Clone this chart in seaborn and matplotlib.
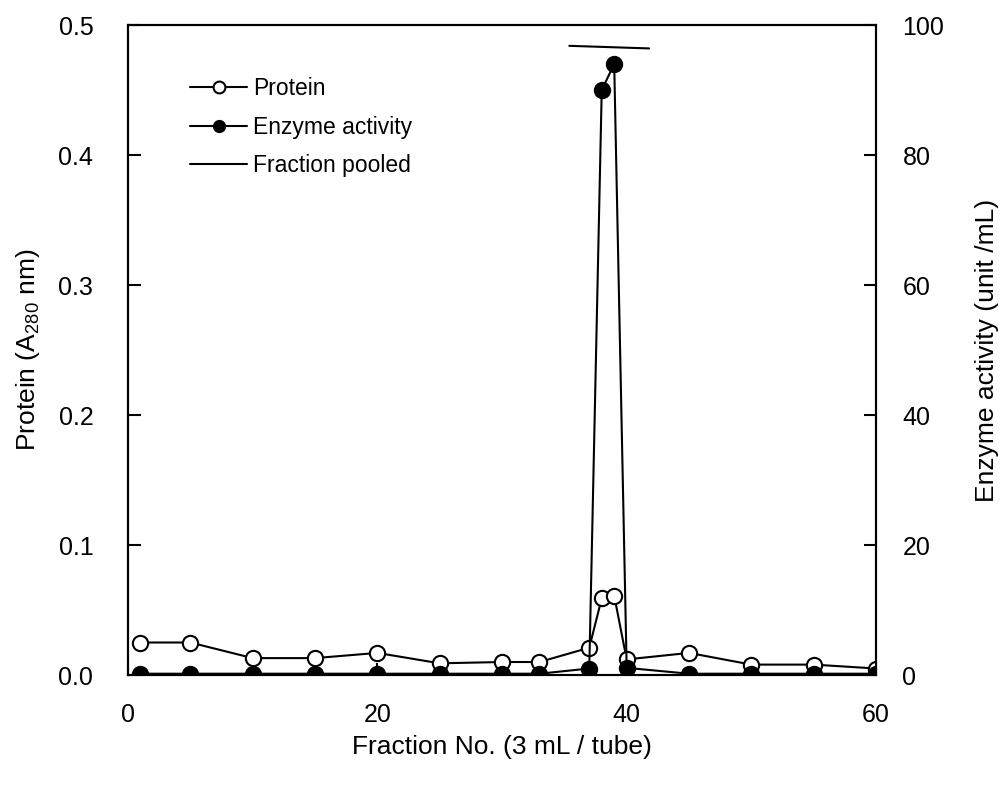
import matplotlib
matplotlib.use("Agg")
import matplotlib.pyplot as plt
import seaborn as sns
import numpy as np
from matplotlib.lines import Line2D

# Data
fractions = [1, 5, 10, 15, 20, 25, 30, 33, 37, 38, 39, 40, 45, 50, 55, 60]
protein = [0.025, 0.025, 0.013, 0.013, 0.017, 0.009, 0.010, 0.010, 0.021, 0.059, 0.061, 0.012, 0.017, 0.008, 0.008, 0.005]
enzyme = [0.2, 0.2, 0.2, 0.2, 0.2, 0.2, 0.2, 0.2, 1.0, 90, 94, 1.1, 0.2, 0.2, 0.2, 0.2]
pooled_x = [35.4, 41.8]
pooled_y = [96.8, 96.4]

x_ticks = [0, 20, 40, 60]
left_ticks = [0.0, 0.1, 0.2, 0.3, 0.4, 0.5]
right_ticks = [0, 20, 40, 60, 80, 100]

sns.set_style("ticks")
plt.rcParams['font.family'] = ['Liberation Sans', 'DejaVu Sans']
plt.rcParams['mathtext.fontset'] = 'custom'
plt.rcParams['mathtext.rm'] = 'Liberation Sans'
for k in ['text.color', 'axes.labelcolor', 'xtick.color', 'ytick.color',
          'xtick.labelcolor', 'ytick.labelcolor']:
    plt.rcParams[k] = 'black'

fig = plt.figure(figsize=(10, 7.87), dpi=100)
ax = fig.add_axes([0.128, 0.1423, 0.748, 0.8259])
ax2 = ax.twinx()

lw = 1.5
ms = 11
sns.lineplot(x=fractions, y=protein, ax=ax, color='black', linewidth=lw,
             marker='o', markersize=ms, markerfacecolor='white',
             markeredgecolor='black', markeredgewidth=1.5, zorder=3)
sns.lineplot(x=fractions, y=enzyme, ax=ax2, color='black', linewidth=lw,
             marker='o', markersize=ms, markerfacecolor='black',
             markeredgecolor='black', markeredgewidth=1.5, zorder=4)
sns.lineplot(x=pooled_x, y=pooled_y, ax=ax2, color='black', linewidth=lw)

ax.set_xlim(0, 60)
ax.set_ylim(0, 0.5)
ax2.set_ylim(0, 100)
ax.set_xticks(x_ticks)
ax.set_yticks(left_ticks)
ax.set_yticklabels([f"{v:.1f}" for v in left_ticks])
ax2.set_yticks(right_ticks)

for a in (ax, ax2):
    for s in a.spines.values():
        s.set_linewidth(1.5)
        s.set_color('black')
        s.set_visible(True)
    a.tick_params(direction='in', length=9, width=1.5, labelsize=18,
                  colors='black', labelcolor='black')
ax.tick_params(axis='x', pad=20)
ax.tick_params(axis='y', pad=25)
ax2.tick_params(axis='y', pad=19)

ax.set_xlabel("Fraction No. (3 mL / tube)", fontsize=19, labelpad=6, color='black')
ax.set_ylabel(r"Protein (A$_{\mathregular{280}}$ nm)", fontsize=19, labelpad=12, color='black')
ax2.set_ylabel("Enzyme activity (unit /mL)", fontsize=19, labelpad=22, color='black')

lms = 8.5
handles = [
    Line2D([], [], color='black', linewidth=lw, marker='o', markersize=lms,
           markerfacecolor='white', markeredgecolor='black', markeredgewidth=1.5),
    Line2D([], [], color='black', linewidth=lw, marker='o', markersize=lms,
           markerfacecolor='black', markeredgecolor='black'),
    Line2D([], [], color='black', linewidth=lw),
]
labels = ["Protein", "Enzyme activity", "Fraction pooled"]
leg = ax2.legend(handles, labels, loc='upper left', bbox_to_anchor=(0.083, 0.92),
                 frameon=False, fontsize=16.5, handlelength=2.5, handletextpad=0.25,
                 labelspacing=0.68, borderpad=0, borderaxespad=0)
for t in leg.get_texts():
    t.set_color('black')

fig.savefig("out.png", dpi=100)
